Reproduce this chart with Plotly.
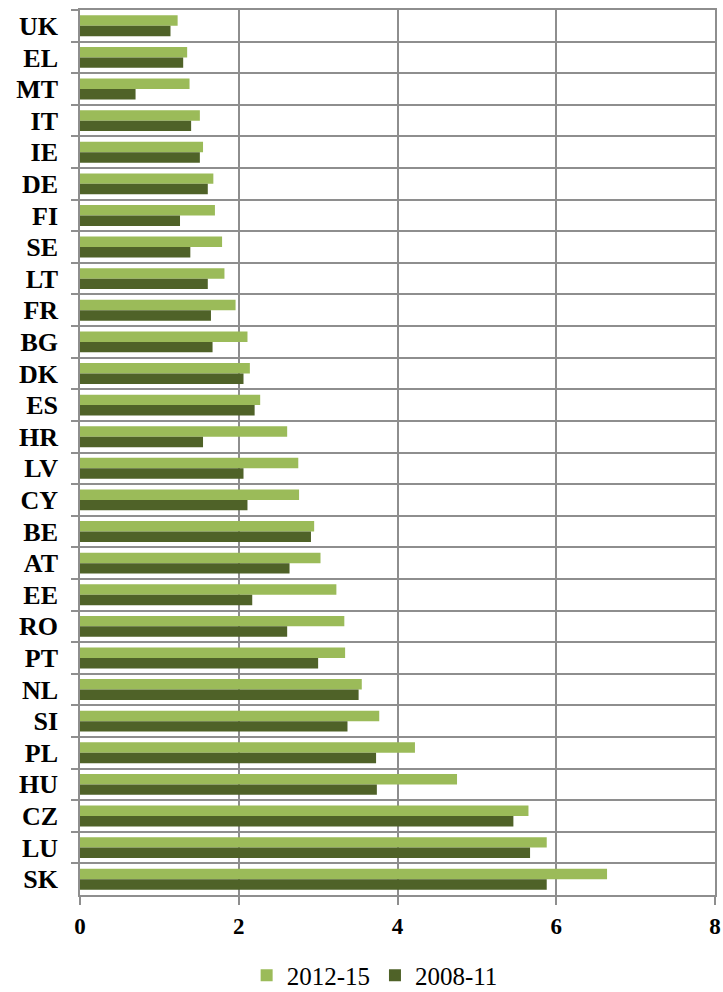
import plotly.graph_objects as go

countries = ["UK", "EL", "MT", "IT", "IE", "DE", "FI", "SE", "LT", "FR",
             "BG", "DK", "ES", "HR", "LV", "CY", "BE", "AT", "EE", "RO",
             "PT", "NL", "SI", "PL", "HU", "CZ", "LU", "SK"]
v2012_15 = [1.23, 1.35, 1.38, 1.51, 1.55, 1.68, 1.70, 1.79, 1.82, 1.96,
            2.11, 2.14, 2.27, 2.61, 2.75, 2.76, 2.95, 3.03, 3.23, 3.33,
            3.34, 3.55, 3.77, 4.22, 4.75, 5.65, 5.88, 6.64]
v2008_11 = [1.14, 1.30, 0.70, 1.40, 1.51, 1.61, 1.26, 1.39, 1.61, 1.65,
            1.67, 2.06, 2.20, 1.55, 2.06, 2.11, 2.91, 2.64, 2.17, 2.61,
            3.00, 3.51, 3.37, 3.73, 3.74, 5.46, 5.67, 5.88]
x_ticks = [0, 2, 4, 6, 8]

serif = "Liberation Serif"
grid = "#8E8E8E"

fig = go.Figure()
fig.add_trace(go.Bar(y=countries, x=v2012_15, orientation="h", name="2012-15",
                     marker=dict(color="#9BBB59", line=dict(width=0))))
fig.add_trace(go.Bar(y=countries, x=v2008_11, orientation="h", name="2008-11",
                     marker=dict(color="#4F6228", line=dict(width=0))))

fig.update_layout(
    width=723, height=992,
    margin=dict(l=80, r=8, t=10, b=97, autoexpand=False),
    paper_bgcolor="white", plot_bgcolor="white",
    barmode="group", bargap=0.34, bargroupgap=0,
    font=dict(family=serif, color="black"),
    legend=dict(orientation="h", x=0.464, xanchor="center", y=-0.091, yanchor="middle",
                font=dict(size=25, family=serif), itemwidth=30, traceorder="normal"),
    xaxis=dict(range=[0, 8], tickvals=x_ticks, showgrid=True, gridcolor=grid, gridwidth=1.5,
               zeroline=False, showline=True, linecolor=grid, linewidth=1.5, mirror=True,
               ticks="outside", ticklen=8, tickcolor=grid, tickwidth=1.5, automargin=False,
               tickfont=dict(size=23, family=serif, weight="bold"), ticklabelstandoff=2),
    yaxis=dict(autorange="reversed", type="category", tickson="boundaries",
               showgrid=True, gridcolor=grid, gridwidth=1.5, automargin=False,
               showline=True, linecolor=grid, linewidth=1.5, mirror=True,
               ticks="outside", ticklen=7, tickcolor=grid, tickwidth=1.5,
               tickfont=dict(size=26, family=serif, weight="bold"), ticklabelstandoff=15),
)

# drop the default 8px body margin so the figure fills the window exactly
fig.write_html("out.html", config={"displayModeBar": False},
               post_script="document.body.style.margin='0';")
